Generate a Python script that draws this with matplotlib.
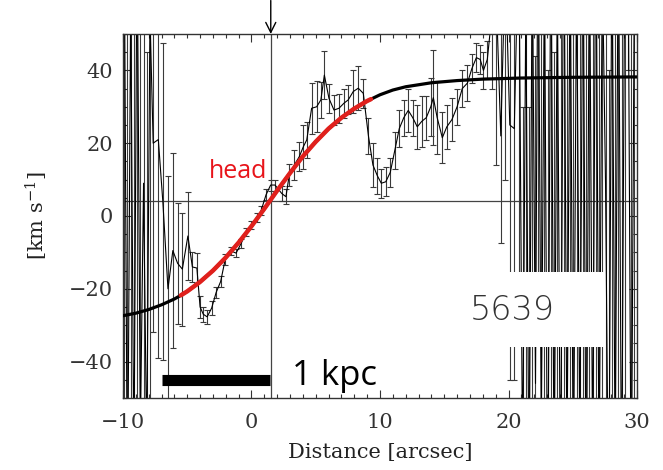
import matplotlib
matplotlib.use("Agg")
import matplotlib.pyplot as plt
from matplotlib.patches import Rectangle
from matplotlib.ticker import MultipleLocator
import numpy as np

# measured velocities along the slit (distance in arcsec, v in km/s, 1-sigma error)
dist = [-9.9, -9.65, -9.4, -9.15, -8.9, -8.65, -8.4, -8.15, -7.9, -7.65,
        -7.25, -6.9,
        -6.5, -6.12, -5.75, -5.38, -4.95, -4.6, -4.25, -4.0, -3.75, -3.45,
        -3.1, -2.75, -2.4, -2.05, -1.6, -1.2, -0.8, -0.4, 0.0, 0.4,
        0.75, 1.13, 1.49, 1.83, 2.35, 2.68, 2.94, 3.33, 3.72, 4.03,
        4.3, 4.68, 5.07, 5.4, 5.67, 6.03, 6.42, 6.81, 7.2, 7.53,
        7.92, 8.31, 8.7, 9.1, 9.45, 9.8, 10.1, 10.45, 10.8, 11.15,
        11.5, 11.85, 12.2, 12.55, 12.9, 13.25, 13.6, 13.95, 14.15, 14.45,
        14.85, 15.2, 15.6, 16.0, 16.4, 16.8, 17.15, 17.5, 17.8, 18.05,
        18.35, 18.7, 19.05, 19.4, 19.75, 20.1, 20.45, 20.8, 21.1, 21.35,
        21.6, 21.85, 22.1, 22.3, 22.55, 22.8, 23.05, 23.3, 23.55, 23.8,
        24.05, 24.3, 24.55, 24.8, 25.05, 25.3, 25.55, 25.8, 26.05, 26.3,
        26.55, 26.8, 27.05, 27.3, 27.55, 27.8, 28.05, 28.3, 28.55, 28.8,
        29.05, 29.3, 29.55, 29.8]
vel = [75, -85, 60, -70, 80, -60, 9, -65, 55, 20,
       21, 4,
       -20, -9.5, -13, -14.6, -5.5, -14, -14.3, -25, -27, -27.7,
       -25.3, -21, -18, -12, -9.6, -10.2, -7.5, -4.4, -2.5, -0.5,
       1.5, 5.8, 8.5, 8.5, 6.2, 5.3, 11.3, 14, 16.3, 19,
       20.9, 29.6, 30, 31.9, 38.7, 32.3, 29.1, 29.6, 31, 31.9,
       34.2, 35.1, 33.7, 22, 14, 11, 9, 9.4, 12, 18,
       24, 27, 29, 27, 24.5, 26, 27, 30, 32.5, 27,
       21.5, 24.5, 26.5, 30, 35, 36.5, 40.5, 43.5, 43, 40,
       43, 55, 60, 22, 70, 25, 24, 80, -70, 60,
       -80, 75, -46, 90, -60, 70, -90, 85, -75, 65,
       -85, 95, -70, 75, -80, 70, -65, 85, -90, 80,
       -70, 90, -75, 70, 9, -90, 80, -70, 85, -80,
       75, 80, -85, 70]
verr = [140, 140, 130, 130, 140, 120, 100, 110, 120, 52,
        60, 43.5,
        31, 26.8, 16.7, 15.5, 12, 4, 4, 3, 2, 2,
        2, 1.5, 1.5, 1.5, 1.2, 1.2, 1.2, 1.2, 1.2, 1.2,
        1.2, 1.5, 1.5, 1.5, 2, 2, 3, 4, 4, 6,
        5, 7, 7, 5, 6.5, 4, 4, 4, 4, 4,
        6, 6, 4, 5, 6, 5, 4, 4, 4, 5,
        5, 5, 6, 5, 6, 7, 6, 8, 13, 10,
        7, 6, 6, 5, 5, 5, 4, 4, 4, 5,
        5, 20, 46, 29.5, 60, 70, 69, 100, 100, 120,
        110, 130, 90, 120, 110, 130, 130, 140, 120, 130,
        140, 150, 120, 140, 130, 140, 120, 140, 150, 130,
        120, 150, 130, 140, 120, 130, 150, 150, 140, 130,
        140, 40, 150, 130]

# rotation curve fit
fit_x = [-10, -9, -8, -7, -6, -5.5, -5, -4, -3, -2, -1, 0, 1, 2, 3, 4, 5, 6, 7, 8,
         9, 9.3, 10, 11, 12, 14, 16, 18, 21, 25, 30]
fit_v = [-27.4, -26.7, -25.7, -24.4, -22.8, -21.8, -20.7, -18.1, -15.0, -11.4, -7.3,
         -2.8, 2.0, 7.0, 11.8, 16.4, 20.4, 24.0, 27.0, 29.5, 31.6, 32.1, 33.3, 34.6,
         35.5, 36.6, 37.2, 37.6, 37.9, 38.1, 38.2]
red_range = (-5.5, 9.3)

v_sys = 4.2        # horizontal reference line
x_center = 1.5     # kinematic centre (vertical line + arrow)
kpc_bar = (-7.0, 1.45)
kpc_y = -45

plt.rcParams['mathtext.fontset'] = 'dejavuserif'
fig = plt.figure(figsize=(6.63, 4.70), dpi=100)
ax = fig.add_axes([0.1855, 0.1532, 0.7753, 0.7745])

ax.errorbar(dist, vel, yerr=verr, fmt='none', ecolor='#3a3a3a', elinewidth=0.8,
            capsize=2, capthick=0.8, zorder=2)
ax.plot(dist, vel, color='k', lw=0.8, zorder=2)

ax.axhline(v_sys, color='#444444', lw=0.9, zorder=1)
ax.axvline(x_center, color='#444444', lw=0.9, zorder=1)

fx = np.array(fit_x)
fv = np.array(fit_v)
ax.plot(fx, fv, color='k', lw=2.3, zorder=3, solid_capstyle='round')
m = (fx >= red_range[0]) & (fx <= red_range[1])
ax.plot(fx[m], fv[m], color='#e0201c', lw=3.2, zorder=4, solid_capstyle='round')

ax.plot(kpc_bar, [kpc_y, kpc_y], color='k', lw=8, solid_capstyle='butt', zorder=5)
ax.text(3.15, -46.4, '1 kpc', fontsize=25, family='Open Sans', color='k', zorder=6)
ax.text(-3.35, 10.4, 'head', fontsize=18, family='Open Sans', color='#e8141a', zorder=6)

ax.add_patch(Rectangle((17.5, -36), 10.0, 20.6, facecolor='white', edgecolor='none', zorder=5))
ax.text(20.3, -26, '5639', fontsize=24, family='DejaVu Sans', fontweight='light',
        color='#333333', ha='center', va='center', zorder=6)

ax.annotate('', xy=(x_center, 50), xytext=(x_center, 59.2), annotation_clip=False,
            arrowprops=dict(arrowstyle='->', lw=1.0, color='k', mutation_scale=18,
                            shrinkA=0, shrinkB=0))

ax.set_xlim(-10, 30)
ax.set_ylim(-50, 50)
ax.xaxis.set_major_locator(MultipleLocator(10))
ax.xaxis.set_minor_locator(MultipleLocator(1))
ax.yaxis.set_major_locator(MultipleLocator(20))
ax.yaxis.set_minor_locator(MultipleLocator(5))
ax.tick_params(which='both', direction='in', top=True, right=True, colors='#333333',
               labelsize=15, width=0.8)
ax.tick_params(which='major', length=6)
ax.tick_params(which='minor', length=3)
ax.tick_params(axis='x', pad=11)
ax.tick_params(axis='y', pad=7)
for lab in ax.get_xticklabels() + ax.get_yticklabels():
    lab.set_family('DejaVu Serif')
for s in ax.spines.values():
    s.set_color('#333333')
    s.set_linewidth(1.0)

ax.set_xlabel('Distance [arcsec]', fontsize=15, family='DejaVu Serif', color='#222222',
              labelpad=8)
ax.set_ylabel('[km s$^{-1}$]', fontsize=15, family='DejaVu Serif', color='#222222',
              labelpad=14)

fig.savefig('out.png', dpi=100)
